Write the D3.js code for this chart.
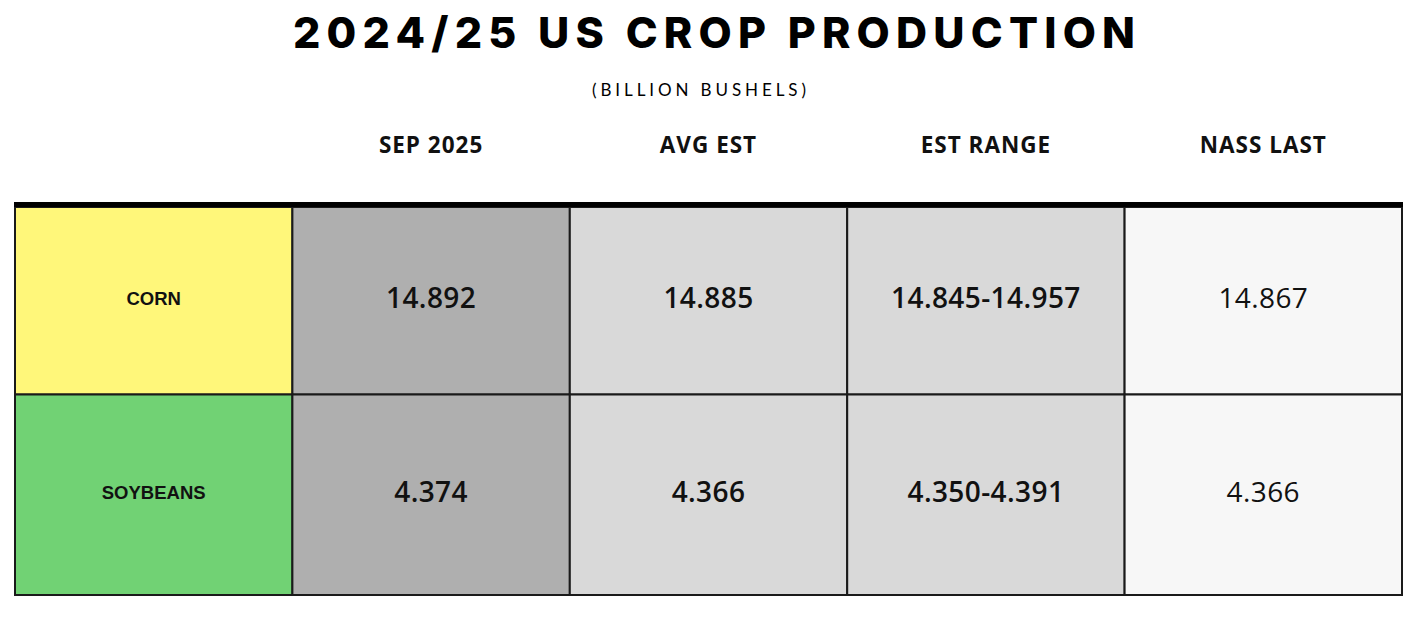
<!DOCTYPE html>
<html>
<head>
<meta charset="utf-8">
<script src="https://cdn.jsdelivr.net/npm/d3@7"></script>
<style>
  html, body { margin: 0; padding: 0; background: #ffffff; }
  svg { display: block; }
</style>
</head>
<body>
<svg id="chart" width="1414" height="620"></svg>
<script>
// ---- data ----
const title = "2024/25 US CROP PRODUCTION";
const subtitle = "(BILLION BUSHELS)";
const columnKeys = ["label", "sep", "avg", "range", "nass"];
const columnHeaders = ["", "SEP 2025", "AVG EST", "EST RANGE", "NASS LAST"];
const crops = ["CORN", "SOYBEANS"];
const sep2025 = ["14.892", "4.374"];
const avgEst = ["14.885", "4.366"];
const estRange = ["14.845-14.957", "4.350-4.391"];
const nassLast = ["14.867", "4.366"];

// ---- styles ----
const cropColors = { "CORN": "#fff77a", "SOYBEANS": "#71d274" };
const columnFill = { sep: "#afafaf", avg: "#d9d9d9", range: "#d9d9d9", nass: "#f7f7f7" };
const columnWeight = { sep: 600, avg: 600, range: 600, nass: 400 };

const svg = d3.select("#chart");
const tableLeft = 15, tableRight = 1402, tableTop = 207, tableBottom = 595;

const x = d3.scaleBand().domain(columnKeys).range([tableLeft, tableRight]);
const y = d3.scaleBand().domain(crops).range([194, tableBottom]);

// title
svg.append("text")
  .attr("x", 714).attr("y", 48)
  .attr("text-anchor", "middle")
  .attr("textLength", 842).attr("lengthAdjust", "spacing")
  .style("font-family", "Inter, 'Noto Sans', sans-serif")
  .style("font-weight", 800)
  .style("font-size", "43px")
  .style("fill", "#000")
  .text(title);

svg.append("text")
  .attr("x", 699).attr("y", 96)
  .attr("text-anchor", "middle")
  .attr("textLength", 214).attr("lengthAdjust", "spacing")
  .style("font-family", "Lato, 'Noto Sans', sans-serif")
  .style("font-weight", 400)
  .style("font-size", "17px")
  .style("fill", "#000")
  .text(subtitle);

// column headers
svg.append("g").selectAll("text")
  .data(columnKeys.map((k, i) => ({ k, h: columnHeaders[i] })).filter(d => d.h))
  .join("text")
  .attr("x", d => x(d.k) + x.bandwidth() / 2)
  .attr("y", 153)
  .attr("text-anchor", "middle")
  .style("font-family", "'Open Sans', sans-serif")
  .style("font-weight", 700)
  .style("font-size", "22.5px")
  .style("letter-spacing", "1px")
  .style("fill", "#111")
  .text(d => d.h);

// cells
const valueCols = { sep: sep2025, avg: avgEst, range: estRange, nass: nassLast };
const cells = [];
crops.forEach((c, ri) => {
  cells.push({ crop: c, key: "label", text: c });
  ["sep", "avg", "range", "nass"].forEach(k => cells.push({ crop: c, key: k, text: valueCols[k][ri] }));
});

const cellTop = d => Math.max(y(d.crop), tableTop);
const cellBottom = d => y(d.crop) + y.bandwidth();

const g = svg.append("g");
g.selectAll("rect")
  .data(cells)
  .join("rect")
  .attr("x", d => x(d.key))
  .attr("y", d => cellTop(d))
  .attr("width", x.bandwidth())
  .attr("height", d => cellBottom(d) - cellTop(d))
  .attr("fill", d => d.key === "label" ? cropColors[d.crop] : columnFill[d.key])
  .attr("stroke", "#1a1a1a")
  .attr("stroke-width", 2);

g.selectAll("text")
  .data(cells)
  .join("text")
  .attr("x", d => x(d.key) + x.bandwidth() / 2)
  .attr("y", d => (cellTop(d) + cellBottom(d)) / 2 - (d.key === "label" ? 2 : 3.5))
  .attr("dy", d => d.key === "label" ? "0.36em" : "0.37em")
  .attr("text-anchor", "middle")
  .style("font-family", d => d.key === "label" ? "'Liberation Sans', Arial, sans-serif" : "'Open Sans', sans-serif")
  .style("font-weight", d => d.key === "label" ? 700 : columnWeight[d.key])
  .style("font-size", d => d.key === "label" ? "18.5px" : "28px")
  .style("letter-spacing", d => d.key === "label" ? "0px" : "0.4px")
  .style("fill", "#111")
  .text(d => d.text);

// thick top rule
svg.append("line")
  .attr("x1", tableLeft - 1).attr("x2", tableRight + 1)
  .attr("y1", 204.5).attr("y2", 204.5)
  .attr("stroke", "#000").attr("stroke-width", 5);
</script>
</body>
</html>
